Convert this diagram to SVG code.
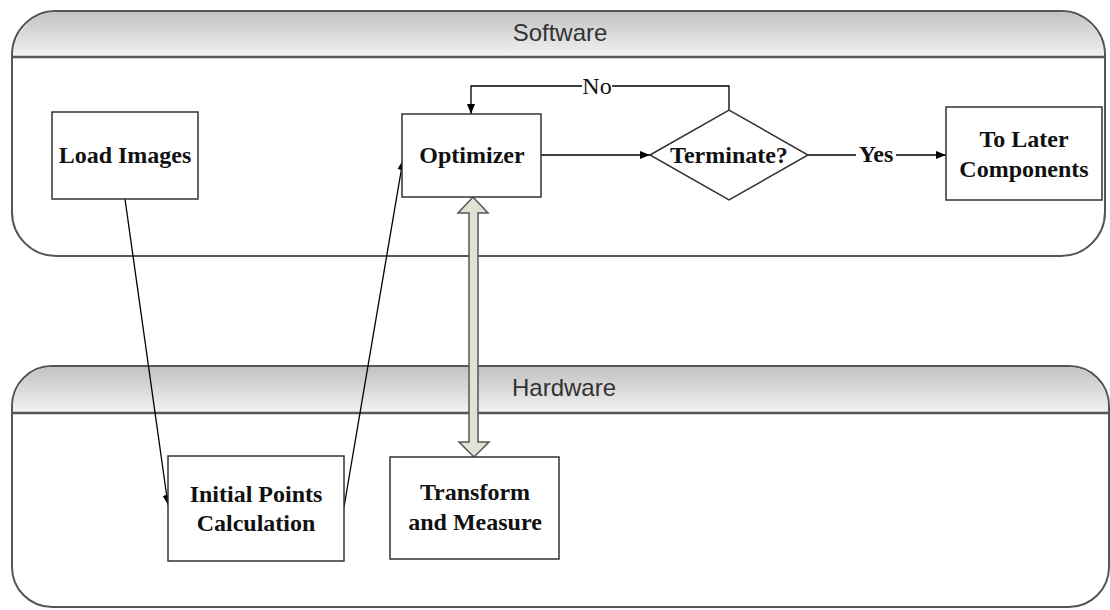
<svg xmlns="http://www.w3.org/2000/svg" width="1110" height="610" viewBox="0 0 1110 610">
<defs>
<linearGradient id="hdr" x1="0" y1="0" x2="0" y2="1">
<stop offset="0" stop-color="#c2c2c2"/>
<stop offset="1" stop-color="#f3f3f3"/>
</linearGradient>
<marker id="arr" markerWidth="10" markerHeight="8" refX="10" refY="4" orient="auto" markerUnits="userSpaceOnUse">
<path d="M0,0 L10,4 L0,8 Z" fill="#000"/>
</marker>
<style>
.lane{fill:#fff;stroke:#555;stroke-width:2}
.hline{stroke:#555;stroke-width:2.5}
.lanetxt{font-family:"Liberation Sans",Arial,sans-serif;font-size:24px;fill:#333;text-anchor:middle}
.box{fill:#fff;stroke:#333;stroke-width:1.5}
.ntxt{font-family:"Liberation Serif","Times New Roman",serif;font-weight:bold;font-size:24px;fill:#111;text-anchor:middle}
.con{fill:none;stroke:#000;stroke-width:1.3}
.ltxt{font-family:"Liberation Serif","Times New Roman",serif;font-size:24px;fill:#111;text-anchor:middle}
</style>
</defs>
<rect width="1110" height="610" fill="#fff"/>

<g id="lane-software">
<rect class="lane" x="12" y="11" width="1093" height="245" rx="44" ry="44"/>
<path d="M13,57 L13,55 A44,44 0 0 1 56,12 L1061,12 A44,44 0 0 1 1104,55 L1104,57 Z" fill="url(#hdr)"/>
<line class="hline" x1="12" y1="57" x2="1105" y2="57"/>
<text class="lanetxt" x="560" y="41">Software</text>
</g>

<g id="lane-hardware">
<rect class="lane" x="12" y="366" width="1097" height="241" rx="40" ry="40"/>
<path d="M13,413 L13,406 A40,40 0 0 1 52,367 L1069,367 A40,40 0 0 1 1108,406 L1108,413 Z" fill="url(#hdr)"/>
<line class="hline" x1="12" y1="413" x2="1109" y2="413"/>
<text class="lanetxt" x="564" y="396">Hardware</text>
</g>

<g id="connectors">
<line class="con" x1="125" y1="199" x2="168" y2="505" marker-end="url(#arr)"/>
<line class="con" x1="344" y1="507" x2="403" y2="160" marker-end="url(#arr)"/>
<line class="con" x1="541" y1="155" x2="650" y2="155" marker-end="url(#arr)"/>
<polyline class="con" points="729,110 729,86 612,86"/>
<polyline class="con" points="582,86 471,86 471,114" marker-end="url(#arr)"/>
<text class="ltxt" x="597" y="94">No</text>
<line class="con" x1="808" y1="155" x2="856" y2="155"/>
<line class="con" x1="896" y1="155" x2="946" y2="155" marker-end="url(#arr)"/>
<text class="ntxt" x="876" y="162">Yes</text>
<path d="M473,197 L488,213 L478,213 L478,442 L489,442 L474,457 L459,442 L469,442 L469,213 L458,213 Z" fill="#e0e3d3" stroke="#555" stroke-width="1.5" stroke-linejoin="miter"/>
</g>

<g id="node-load">
<rect class="box" x="52" y="112" width="146" height="87"/>
<text class="ntxt" x="125" y="163">Load Images</text>
</g>

<g id="node-optimizer">
<rect class="box" x="402" y="114" width="139" height="83"/>
<text class="ntxt" x="472" y="163">Optimizer</text>
</g>

<g id="node-terminate">
<polygon class="box" points="650,155 729,110 808,155 729,200"/>
<text class="ntxt" x="729" y="163">Terminate?</text>
</g>

<g id="node-later">
<rect class="box" x="946" y="107" width="156" height="93"/>
<text class="ntxt" x="1024" y="147">To Later</text>
<text class="ntxt" x="1024" y="177">Components</text>
</g>

<g id="node-initial">
<rect class="box" x="168" y="456" width="176" height="105"/>
<text class="ntxt" x="256" y="502">Initial Points</text>
<text class="ntxt" x="256" y="531">Calculation</text>
</g>

<g id="node-transform">
<rect class="box" x="390" y="457" width="169" height="102"/>
<text class="ntxt" x="475" y="500">Transform</text>
<text class="ntxt" x="475" y="530">and Measure</text>
</g>
</svg>
